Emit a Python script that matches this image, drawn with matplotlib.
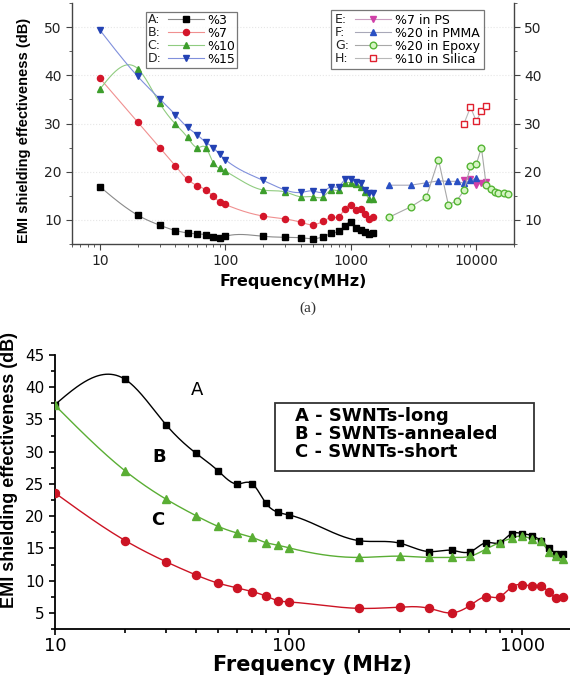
import numpy as np
import matplotlib
matplotlib.use("Agg")
import matplotlib.pyplot as plt
import matplotlib.ticker as mticker
from matplotlib.lines import Line2D
from matplotlib.text import Text
from matplotlib.patches import Rectangle
from matplotlib.legend_handler import HandlerLine2D

plt.rcParams['font.family'] = ['DejaVu Sans']
NARROW = ['Liberation Sans', 'DejaVu Sans']

# ---------------- data: panel (a) ----------------
freq_a = [10, 20, 30, 40, 50, 60, 70, 80, 90, 100, 200, 300, 400, 500, 600, 700,
          800, 900, 1000, 1100, 1200, 1300, 1400, 1500]
se_A3 = [16.9, 11.0, 8.9, 7.8, 7.3, 7.1, 6.9, 6.4, 6.3, 6.6, 6.6, 6.4, 6.3, 6.1, 6.5, 7.2,
         7.6, 8.7, 9.6, 8.4, 8.0, 7.5, 7.0, 7.2]
se_B7 = [39.4, 30.3, 25.0, 21.2, 18.4, 17.1, 16.2, 14.9, 13.8, 13.2, 10.8, 10.2, 9.5, 9.0, 9.7, 10.5,
         10.7, 12.3, 13.1, 12.1, 12.3, 11.2, 10.2, 10.5]
se_C10 = [37.1, 41.4, 34.2, 29.9, 27.1, 25.0, 25.0, 21.9, 20.7, 20.1, 16.2, 15.8, 14.8, 14.8, 14.8, 16.2,
          16.2, 17.6, 17.7, 17.4, 16.9, 15.8, 14.3, 14.3]
se_D15 = [49.4, 39.8, 35.1, 31.8, 29.2, 27.6, 26.1, 25.0, 23.6, 22.5, 18.2, 16.2, 15.7, 16.0, 15.8, 16.9,
          16.9, 18.4, 18.4, 17.9, 17.6, 16.2, 15.5, 15.5]

freq_E = [8000, 9000, 10000, 11000, 12000]
se_E = [18.3, 18.4, 17.3, 17.7, 17.9]
freq_F = [2000, 3000, 4000, 5000, 6000, 7000, 8000, 9000, 10000]
se_F = [17.2, 17.2, 17.7, 18.1, 18.0, 18.0, 17.6, 18.2, 18.6]
freq_G = [2000, 3000, 4000, 5000, 6000, 7000, 8000, 9000, 10000, 11000, 12000, 13000,
          14000, 15000, 16500, 18000]
se_G = [10.5, 12.7, 14.7, 22.5, 13.1, 14.0, 16.1, 21.1, 21.5, 25.0, 17.2, 16.5,
        15.8, 15.6, 15.6, 15.4]
freq_H = [8000, 9000, 10000, 11000, 12000]
se_H = [30.0, 33.4, 30.5, 32.6, 33.6]

letters_a = ['A:', 'B:', 'C:', 'D:']
labels_a = ['%3', '%7', '%10', '%15']
letters_b = ['E:', 'F:', 'G:', 'H:']
labels_b = ['%7 in PS', '%20 in PMMA', '%20 in Epoxy', '%10 in Silica']

# ---------------- data: panel (b) ----------------
freq_b = [10, 20, 30, 40, 50, 60, 70, 80, 90, 100, 200, 300, 400, 500, 600, 700,
          800, 900, 1000, 1100, 1200, 1300, 1400, 1500]
se_long = [37.3, 41.2, 34.1, 29.8, 27.0, 25.0, 25.0, 22.0, 20.6, 20.2, 16.2, 15.8, 14.5, 14.7, 14.5, 15.9,
           15.9, 17.3, 17.3, 17.0, 16.2, 15.1, 14.2, 14.2]
se_annealed = [37.2, 27.0, 22.6, 20.1, 18.4, 17.4, 16.7, 15.9, 15.5, 15.1, 13.6, 13.8, 13.6, 13.6, 13.8, 14.9,
               15.9, 16.6, 16.9, 16.5, 16.1, 14.5, 13.8, 13.3]
se_short = [23.6, 16.2, 12.9, 10.9, 9.6, 8.9, 8.3, 7.6, 6.9, 6.7, 5.7, 5.9, 5.7, 5.0, 6.2, 7.5,
            7.5, 9.0, 9.4, 9.2, 9.2, 8.2, 7.3, 7.4]
legend_b = ['A - SWNTs-long', 'B - SWNTs-annealed', 'C - SWNTs-short']
curve_letters = ['A', 'B', 'C']


def smooth(x, y, n=400):
    """Natural cubic spline through the data in log-x, used only for drawing the line."""
    t = np.log10(np.asarray(x, float))
    y = np.asarray(y, float)
    k = len(t)
    h = np.diff(t)
    M = np.zeros((k, k))
    r = np.zeros(k)
    M[0, 0] = M[-1, -1] = 1
    for i in range(1, k - 1):
        M[i, i - 1] = h[i - 1]
        M[i, i] = 2 * (h[i - 1] + h[i])
        M[i, i + 1] = h[i]
        r[i] = 3 * ((y[i + 1] - y[i]) / h[i] - (y[i] - y[i - 1]) / h[i - 1])
    c = np.linalg.solve(M, r)
    b = (y[1:] - y[:-1]) / h - h * (2 * c[:-1] + c[1:]) / 3
    d = (c[1:] - c[:-1]) / (3 * h)
    tt = np.linspace(t[0], t[-1], n)
    idx = np.clip(np.searchsorted(t, tt) - 1, 0, k - 2)
    dt = tt - t[idx]
    yy = y[idx] + b[idx] * dt + c[idx] * dt ** 2 + d[idx] * dt ** 3
    return 10 ** tt, yy


class LetterHandler(HandlerLine2D):
    def __init__(self, letter, **kw):
        super().__init__(**kw)
        self.letter = letter

    def create_artists(self, legend, orig_handle, xdescent, ydescent, width, height, fontsize, trans):
        lw = width * 0.64
        arts = super().create_artists(legend, orig_handle, xdescent - (width - lw), ydescent,
                                      lw, height, fontsize, trans)
        t = Text(-xdescent, -ydescent + height / 2.0, self.letter, fontsize=fontsize,
                 va='center', ha='left', color='#222222')
        t.set_transform(trans)
        return list(arts) + [t]


fig = plt.figure(figsize=(5.7, 6.79), dpi=100)

# ================= panel (a) =================
ax1 = fig.add_axes([72 / 570, 1 - 244 / 679, (514 - 72) / 570, (244 - 3) / 679])
styles_a = [
    (se_A3, 's', 'black', 'black', '#8a8a8a', 3.8),
    (se_B7, 'o', '#d4162a', '#d4162a', '#f09090', 4.4),
    (se_C10, '^', '#3d9e2c', '#3d9e2c', '#90cc80', 4.8),
    (se_D15, 'v', '#2342b4', '#2342b4', '#8090dc', 4.8),
]
handles_a = []
for (vals, mk, fc, ec, lc, ms) in styles_a:
    xs, ys = smooth(freq_a, vals)
    ax1.plot(xs, ys, color=lc, lw=0.8, zorder=2)
    ax1.plot(freq_a, vals, ls='none', marker=mk, ms=ms, mfc=fc, mec=ec, zorder=3)
    handles_a.append(Line2D([], [], color=lc, lw=0.8, marker=mk, ms=ms, mfc=fc, mec=ec))

styles_b = [
    (freq_E, se_E, 'v', '#d040a8', '#d040a8', '#c9a0c0', 4.8),
    (freq_F, se_F, '^', '#2a50c4', '#2a50c4', '#a8a8b8', 4.8),
    (freq_G, se_G, 'o', '#d6f5c4', '#55b535', '#a8a8a8', 4.8),
    (freq_H, se_H, 's', 'white', '#e0202e', '#b8b8b8', 4.6),
]
handles_b = []
for (fx, vals, mk, fc, ec, lc, ms) in styles_b:
    ax1.plot(fx, vals, color=lc, lw=0.8, marker=mk, ms=ms, mfc=fc, mec=ec, mew=1.0, zorder=3)
    handles_b.append(Line2D([], [], color=lc, lw=0.8, marker=mk, ms=ms, mfc=fc, mec=ec, mew=1.0))

ax1.set_xscale('log')
ax1.set_xlim(6, 20000)
ax1.set_ylim(5, 55)
ax1.yaxis.set_major_locator(mticker.MultipleLocator(10))
ax1.yaxis.set_minor_locator(mticker.MultipleLocator(5))
ax1.xaxis.set_major_locator(mticker.FixedLocator([10, 100, 1000, 10000]))
ax1.xaxis.set_major_formatter(mticker.FuncFormatter(lambda v, p: f'{v:g}'))
ax1.xaxis.set_minor_formatter(mticker.NullFormatter())
ax1.spines['top'].set_visible(False)
for s in ['left', 'right', 'bottom']:
    ax1.spines[s].set_color('#444444')
    ax1.spines[s].set_linewidth(1.0)
ax1.tick_params(which='both', direction='out', colors='#444444', labelcolor='#222222',
                left=True, right=True, labelright=True, labelsize=10)
ax1.tick_params(which='major', length=4)
ax1.tick_params(which='minor', length=2.5)
ax1.grid(axis='y', which='major', color='#e6e6e6', ls=':', lw=0.8)
ax1.set_axisbelow(True)
ax1.set_xlabel('Frequency(MHz)', fontsize=11.5, fontweight='bold', labelpad=4)
ax1.set_ylabel('EMI shielding effectiveness (dB)', fontsize=10.5, fontweight='bold',
               family=NARROW)
ax1.yaxis.set_label_coords(-0.092, 0.47)

leg1 = ax1.legend(handles_a, labels_a, loc='upper left', bbox_to_anchor=(0.167, 0.963),
                  borderaxespad=0, fontsize=9, frameon=True, fancybox=False,
                  edgecolor='#555555', handlelength=4.5, handletextpad=0.3,
                  labelspacing=0.0, borderpad=0.15,
                  handler_map={h: LetterHandler(l) for h, l in zip(handles_a, letters_a)})
leg1.get_frame().set_linewidth(0.9)
ax1.add_artist(leg1)
leg2 = ax1.legend(handles_b, labels_b, loc='upper left', bbox_to_anchor=(0.586, 0.971),
                  borderaxespad=0, fontsize=9, frameon=True, fancybox=False,
                  edgecolor='#555555', handlelength=4.5, handletextpad=0.3,
                  labelspacing=0.0, borderpad=0.3,
                  handler_map={h: LetterHandler(l) for h, l in zip(handles_b, letters_b)})
leg2.get_frame().set_linewidth(0.9)

fig.text(308 / 570, 1 - 308 / 679, '(a)', ha='center', va='center', fontsize=11,
         family=['Liberation Serif', 'DejaVu Serif'], color='#333333')

# ================= panel (b) =================
ax2 = fig.add_axes([55 / 570, 1 - 629 / 679, (570 - 55) / 570, (629 - 355) / 679])
series_b = [
    (se_long, 's', 'black', 4.6),
    (se_annealed, '^', '#5aae34', 6.2),
    (se_short, 'o', '#cc1424', 5.8),
]
for (vals, mk, col, ms) in series_b:
    xs, ys = smooth(freq_b, vals)
    ax2.plot(xs, ys, color=col, lw=1.0, zorder=2)
    ax2.plot(freq_b, vals, ls='none', marker=mk, ms=ms, color=col, zorder=3)

ax2.set_xscale('log')
ax2.set_xlim(10, 1600)
ax2.set_ylim(2.5, 45)
ax2.yaxis.set_major_locator(mticker.MultipleLocator(5))
ax2.yaxis.set_minor_locator(mticker.MultipleLocator(2.5))
ax2.xaxis.set_major_locator(mticker.FixedLocator([10, 100, 1000]))
ax2.xaxis.set_major_formatter(mticker.FuncFormatter(lambda v, p: f'{v:g}'))
ax2.xaxis.set_minor_formatter(mticker.NullFormatter())
ax2.spines['top'].set_visible(False)
ax2.spines['right'].set_visible(False)
for s in ['left', 'bottom']:
    ax2.spines[s].set_linewidth(1.3)
ax2.tick_params(which='both', direction='out', width=1.2)
ax2.tick_params(which='major', length=4.5)
ax2.tick_params(which='minor', length=3)
ax2.tick_params(axis='y', labelsize=11, pad=3)
ax2.tick_params(axis='x', labelsize=13, pad=1)
ax2.set_xlabel('Frequency (MHz)', fontsize=15, fontweight='bold', labelpad=0)
ax2.set_ylabel('EMI shielding effectiveness (dB)', fontsize=13, fontweight='bold',
               family=NARROW)
ax2.yaxis.set_label_coords(-0.072, 0.58)

ax2.text(0.276, 0.872, curve_letters[0], transform=ax2.transAxes, fontsize=13,
         ha='center', va='center')
ax2.text(0.202, 0.628, curve_letters[1], transform=ax2.transAxes, fontsize=13,
         fontweight='bold', ha='center', va='center')
ax2.text(0.200, 0.398, curve_letters[2], transform=ax2.transAxes, fontsize=13,
         fontweight='bold', ha='center', va='center')

# legend box (frame drawn as a rectangle so padding can differ horizontally/vertically)
ax2.add_patch(Rectangle(((275 - 55) / 515, (629 - 471) / 274), 259 / 515, 68 / 274,
                        transform=ax2.transAxes, facecolor='white', edgecolor='#333333',
                        lw=1.3, zorder=4, clip_on=False))
blank = [Line2D([], [], ls='none') for _ in legend_b]
leg3 = ax2.legend(blank, legend_b, loc='upper left', bbox_to_anchor=(0.466, 0.812),
                  borderaxespad=0, frameon=False, handlelength=0, handletextpad=0,
                  labelspacing=0.0, borderpad=0, prop={'weight': 'bold', 'size': 13})
leg3.set_zorder(5)

fig.savefig('out.png', dpi=100)
